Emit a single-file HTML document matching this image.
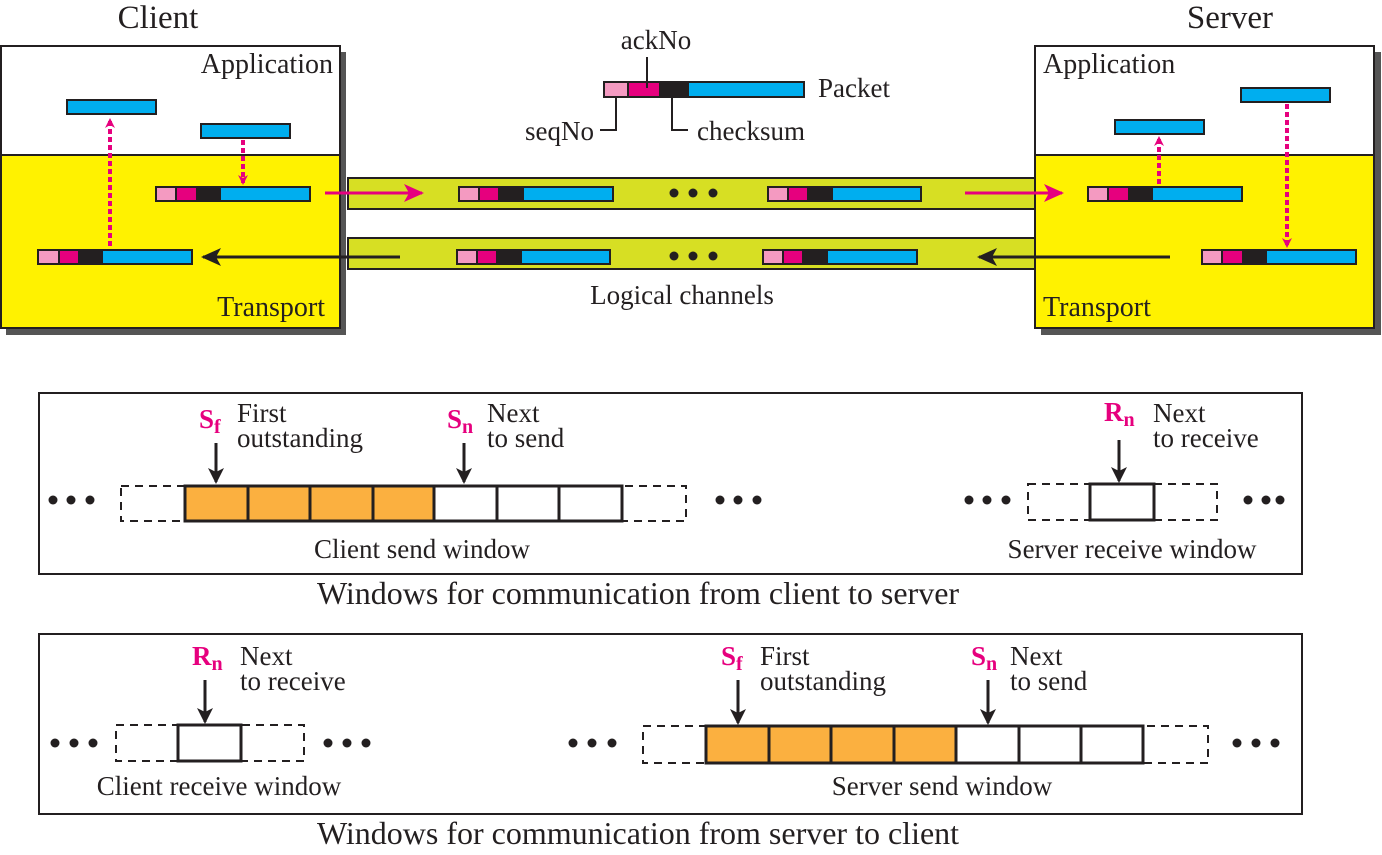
<!DOCTYPE html>
<html><head><meta charset="utf-8"><style>
html,body{margin:0;padding:0;background:#fff}
svg{display:block}
text{font-family:"Liberation Serif",serif;fill:#231f20}
</style></head><body>
<svg width="1382" height="855" viewBox="0 0 1382 855" xmlns="http://www.w3.org/2000/svg">
<defs>
<marker id="ap" markerWidth="10" markerHeight="10" refX="8" refY="5" orient="auto" markerUnits="userSpaceOnUse"><path d="M0,0 L10,5 L0,10 L3,5 Z" fill="#e6007e"/></marker>
<marker id="apb" markerWidth="20" markerHeight="18" refX="18" refY="9" orient="auto" markerUnits="userSpaceOnUse"><path d="M0,0 L20,9 L0,18 L5,9 Z" fill="#e6007e"/></marker>
<marker id="abb" markerWidth="20" markerHeight="18" refX="18" refY="9" orient="auto" markerUnits="userSpaceOnUse"><path d="M0,0 L20,9 L0,18 L5,9 Z" fill="#231f20"/></marker>
<marker id="ak" markerWidth="16" markerHeight="16" refX="14" refY="8" orient="auto" markerUnits="userSpaceOnUse"><path d="M0,0 L16,8 L0,16 L4,8 Z" fill="#231f20"/></marker>
</defs>

<text x="158" y="28" font-size="33" text-anchor="middle">Client</text>
<text x="1230" y="28" font-size="33" text-anchor="middle">Server</text>

<rect x="6" y="52" width="340" height="283" fill="#555"/>
<rect x="1" y="46" width="339" height="109" fill="#fff" stroke="#231f20" stroke-width="2"/>
<rect x="1" y="155" width="339" height="173" fill="#fff200" stroke="#231f20" stroke-width="2"/>
<text x="333" y="73" font-size="28" text-anchor="end">Application</text>
<text x="325" y="316" font-size="28" text-anchor="end">Transport</text>

<rect x="1041" y="52" width="340" height="283" fill="#555"/>
<rect x="1035" y="46" width="339" height="109" fill="#fff" stroke="#231f20" stroke-width="2"/>
<rect x="1035" y="155" width="339" height="173" fill="#fff200" stroke="#231f20" stroke-width="2"/>
<text x="1043" y="73" font-size="28">Application</text>
<text x="1043" y="316" font-size="28">Transport</text>

<rect x="348" y="178" width="687" height="31" fill="#d7df23" stroke="#231f20" stroke-width="2"/>
<rect x="348" y="238" width="687" height="31" fill="#d7df23" stroke="#231f20" stroke-width="2"/>
<text x="682" y="304" font-size="27" text-anchor="middle">Logical channels</text>
<g fill="#231f20"><circle cx="674" cy="193" r="4.5"/><circle cx="693" cy="193" r="4.5"/><circle cx="713" cy="193" r="4.5"/>
<circle cx="674" cy="256" r="4.5"/><circle cx="693" cy="256" r="4.5"/><circle cx="713" cy="256" r="4.5"/></g>

<g stroke="#231f20" stroke-width="2">
<rect x="156" y="187" width="20" height="14" fill="#f49ac1"/><rect x="176" y="187" width="21" height="14" fill="#e6007e"/><rect x="197" y="187" width="23" height="14" fill="#231f20"/><rect x="220" y="187" width="90" height="14" fill="#00aeef"/>
<rect x="38" y="250" width="21" height="14" fill="#f49ac1"/><rect x="59" y="250" width="20" height="14" fill="#e6007e"/><rect x="79" y="250" width="23" height="14" fill="#231f20"/><rect x="102" y="250" width="90" height="14" fill="#00aeef"/>
<rect x="67" y="100" width="89" height="14" fill="#00aeef"/>
<rect x="201" y="124" width="89" height="14" fill="#00aeef"/>
<rect x="459" y="187" width="20" height="14" fill="#f49ac1"/><rect x="479" y="187" width="20" height="14" fill="#e6007e"/><rect x="499" y="187" width="24" height="14" fill="#231f20"/><rect x="523" y="187" width="90" height="14" fill="#00aeef"/>
<rect x="768" y="187" width="20" height="14" fill="#f49ac1"/><rect x="788" y="187" width="20" height="14" fill="#e6007e"/><rect x="808" y="187" width="24" height="14" fill="#231f20"/><rect x="832" y="187" width="89" height="14" fill="#00aeef"/>
<rect x="457" y="250" width="20" height="14" fill="#f49ac1"/><rect x="477" y="250" width="20" height="14" fill="#e6007e"/><rect x="497" y="250" width="24" height="14" fill="#231f20"/><rect x="521" y="250" width="89" height="14" fill="#00aeef"/>
<rect x="763" y="250" width="20" height="14" fill="#f49ac1"/><rect x="783" y="250" width="20" height="14" fill="#e6007e"/><rect x="803" y="250" width="24" height="14" fill="#231f20"/><rect x="827" y="250" width="90" height="14" fill="#00aeef"/>
<rect x="1088" y="187" width="20" height="14" fill="#f49ac1"/><rect x="1108" y="187" width="21" height="14" fill="#e6007e"/><rect x="1129" y="187" width="23" height="14" fill="#231f20"/><rect x="1152" y="187" width="90" height="14" fill="#00aeef"/>
<rect x="1202" y="250" width="20" height="14" fill="#f49ac1"/><rect x="1222" y="250" width="21" height="14" fill="#e6007e"/><rect x="1243" y="250" width="23" height="14" fill="#231f20"/><rect x="1266" y="250" width="90" height="14" fill="#00aeef"/>
<rect x="1115" y="120" width="89" height="14" fill="#00aeef"/>
<rect x="1241" y="88" width="89" height="14" fill="#00aeef"/>
<rect x="604" y="82" width="24" height="15" fill="#f49ac1"/><rect x="628" y="82" width="32" height="15" fill="#e6007e"/><rect x="660" y="82" width="28" height="15" fill="#231f20"/><rect x="688" y="82" width="116" height="15" fill="#00aeef"/>
</g>
<path d="M647,57 V88" stroke="#231f20" stroke-width="2" fill="none"/>
<path d="M616,97 V130 H600" stroke="#231f20" stroke-width="2" fill="none"/>
<path d="M672,97 V130 H688" stroke="#231f20" stroke-width="2" fill="none"/>
<text x="656" y="49" font-size="27" text-anchor="middle">ackNo</text>
<text x="594" y="140" font-size="27" text-anchor="end">seqNo</text>
<text x="697" y="140" font-size="27">checksum</text>
<text x="818" y="97" font-size="27">Packet</text>

<g stroke="#e6007e" stroke-width="4" stroke-dasharray="5,3" fill="none">
<path d="M110,246 V120" marker-end="url(#ap)"/>
<path d="M243,140 V183" marker-end="url(#ap)"/>
<path d="M1159,184 V138" marker-end="url(#ap)"/>
<path d="M1287,104 V246" marker-end="url(#ap)"/>
</g>
<path d="M325,193 H422" stroke="#e6007e" stroke-width="3" marker-end="url(#apb)"/>
<path d="M965,193 H1062" stroke="#e6007e" stroke-width="3" marker-end="url(#apb)"/>
<path d="M400,257 H203" stroke="#231f20" stroke-width="3" marker-end="url(#abb)"/>
<path d="M1170,257 H979" stroke="#231f20" stroke-width="3" marker-end="url(#abb)"/>

<rect x="39" y="393" width="1263" height="181" fill="#fff" stroke="#231f20" stroke-width="2"/>
<text x="638" y="604" font-size="32" text-anchor="middle">Windows for communication from client to server</text>
<g fill="#231f20">
<circle cx="53" cy="500" r="4.5"/><circle cx="71" cy="500" r="4.5"/><circle cx="90" cy="500" r="4.5"/>
<circle cx="720" cy="500" r="4.5"/><circle cx="738" cy="500" r="4.5"/><circle cx="757" cy="500" r="4.5"/>
<circle cx="969" cy="500" r="4.5"/><circle cx="987" cy="500" r="4.5"/><circle cx="1006" cy="500" r="4.5"/>
<circle cx="1248" cy="500" r="4.5"/><circle cx="1266" cy="500" r="4.5"/><circle cx="1280" cy="500" r="4.5"/>
</g>
<g fill="none" stroke="#231f20" stroke-width="2" stroke-dasharray="8,6">
<rect x="121" y="486" width="565" height="35"/>
<rect x="1028" y="484" width="189" height="36"/>
</g>
<g stroke="#231f20" stroke-width="3">
<rect x="185" y="486" width="63" height="35" fill="#fbb040"/><rect x="248" y="486" width="62" height="35" fill="#fbb040"/><rect x="310" y="486" width="63" height="35" fill="#fbb040"/><rect x="373" y="486" width="61" height="35" fill="#fbb040"/>
<rect x="434" y="486" width="63" height="35" fill="#fff"/><rect x="497" y="486" width="62" height="35" fill="#fff"/><rect x="559" y="486" width="63" height="35" fill="#fff"/>
<rect x="1090" y="484" width="64" height="36" fill="#fff"/>
</g>
<g stroke="#231f20" stroke-width="3">
<path d="M216,443 V482" marker-end="url(#ak)"/>
<path d="M464,443 V482" marker-end="url(#ak)"/>
<path d="M1119,440 V481" marker-end="url(#ak)"/>
</g>
<text x="199" y="428" font-size="27" font-weight="bold" style="fill:#e6007e">S<tspan font-size="20" dy="5">f</tspan></text>
<text x="237" y="422" font-size="27">First</text><text x="237" y="447" font-size="27">outstanding</text>
<text x="447" y="428" font-size="27" font-weight="bold" style="fill:#e6007e">S<tspan font-size="20" dy="5">n</tspan></text>
<text x="487" y="422" font-size="27">Next</text><text x="487" y="447" font-size="27">to send</text>
<text x="1104" y="421" font-size="27" font-weight="bold" style="fill:#e6007e">R<tspan font-size="20" dy="5">n</tspan></text>
<text x="1153" y="422" font-size="27">Next</text><text x="1153" y="447" font-size="27">to receive</text>
<text x="422" y="558" font-size="27" text-anchor="middle">Client send window</text>
<text x="1132" y="558" font-size="27" text-anchor="middle">Server receive window</text>

<rect x="39" y="634" width="1263" height="180" fill="#fff" stroke="#231f20" stroke-width="2"/>
<text x="638" y="844" font-size="32" text-anchor="middle">Windows for communication from server to client</text>
<g fill="#231f20">
<circle cx="55" cy="743" r="4.5"/><circle cx="74" cy="743" r="4.5"/><circle cx="93" cy="743" r="4.5"/>
<circle cx="328" cy="743" r="4.5"/><circle cx="347" cy="743" r="4.5"/><circle cx="366" cy="743" r="4.5"/>
<circle cx="573" cy="743" r="4.5"/><circle cx="592" cy="743" r="4.5"/><circle cx="612" cy="743" r="4.5"/>
<circle cx="1237" cy="743" r="4.5"/><circle cx="1256" cy="743" r="4.5"/><circle cx="1275" cy="743" r="4.5"/>
</g>
<g fill="none" stroke="#231f20" stroke-width="2" stroke-dasharray="8,6">
<rect x="116" y="725" width="188" height="36"/>
<rect x="643" y="726" width="565" height="37"/>
</g>
<g stroke="#231f20" stroke-width="3">
<rect x="178" y="725" width="63" height="36" fill="#fff"/>
<rect x="706" y="726" width="63" height="37" fill="#fbb040"/><rect x="769" y="726" width="62" height="37" fill="#fbb040"/><rect x="831" y="726" width="63" height="37" fill="#fbb040"/><rect x="894" y="726" width="62" height="37" fill="#fbb040"/>
<rect x="956" y="726" width="63" height="37" fill="#fff"/><rect x="1019" y="726" width="62" height="37" fill="#fff"/><rect x="1081" y="726" width="62" height="37" fill="#fff"/>
</g>
<g stroke="#231f20" stroke-width="3">
<path d="M205,680 V722" marker-end="url(#ak)"/>
<path d="M738,680 V723" marker-end="url(#ak)"/>
<path d="M988,680 V723" marker-end="url(#ak)"/>
</g>
<text x="192" y="665" font-size="27" font-weight="bold" style="fill:#e6007e">R<tspan font-size="20" dy="5">n</tspan></text>
<text x="240" y="665" font-size="27">Next</text><text x="240" y="690" font-size="27">to receive</text>
<text x="721" y="665" font-size="27" font-weight="bold" style="fill:#e6007e">S<tspan font-size="20" dy="5">f</tspan></text>
<text x="760" y="665" font-size="27">First</text><text x="760" y="690" font-size="27">outstanding</text>
<text x="971" y="665" font-size="27" font-weight="bold" style="fill:#e6007e">S<tspan font-size="20" dy="5">n</tspan></text>
<text x="1010" y="665" font-size="27">Next</text><text x="1010" y="690" font-size="27">to send</text>
<text x="219" y="795" font-size="27" text-anchor="middle">Client receive window</text>
<text x="942" y="795" font-size="27" text-anchor="middle">Server send window</text>
</svg>
</body></html>
